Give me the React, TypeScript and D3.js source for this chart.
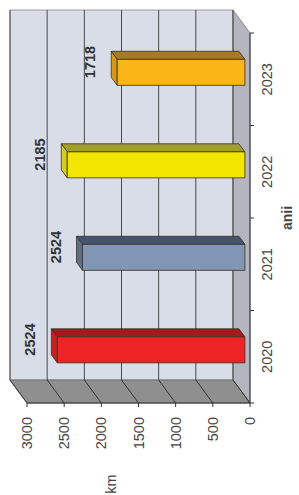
import React from "react";
import * as d3 from "d3";

// data (chart is drawn upright, then turned -90deg)
const years = ["2020", "2021", "2022", "2023"];
const barKm = [2524, 2185, 2390, 1718]; // bar lengths as drawn
const labelKm = ["2524", "2524", "2185", "1718"]; // printed labels
const kmTicks = [0, 500, 1000, 1500, 2000, 2500, 3000];

const frontColors = ["#ee2326", "#8196b4", "#f2e600", "#fbb516"];
const sideColors = ["#a41a1c", "#44546e", "#a0a02a", "#a77a24"];
const capColors = ["#c91f22", "#5d6f8c", "#d4cf1a", "#d59a1c"];

const W = 495; // upright width (= screen height)
const H = 299;
const DX = -23; // depth offset back -> front
const DY = 17;
const barFront = 0.7;
const barBack = 0.35;
const barW = 26;

const pt = (x: number, y: number, f: number) => [x + DX * f, y + DY * f];
const poly = (pts: number[][]) => pts.map((p) => p.join(",")).join(" ");

export default function App() {
  const x = d3.scaleBand<string>().domain(years).range([115, 485]);
  const y = d3.scaleLinear().domain([0, 3000]).range([233, 10]);
  const y0 = y(0);
  const [x0, x1] = x.range();

  return (
    <svg
      width={299}
      height={495}
      style={{ position: "absolute", left: 0, top: 0, fontFamily: "Liberation Sans, Arial, sans-serif" }}
    >
      <g transform={`translate(0,${W}) rotate(-90)`}>
        {/* back wall */}
        <rect x={x0} y={y(3000)} width={x1 - x0} height={y0 - y(3000)} fill="#d9dde8" stroke="#888" strokeWidth={0.8} />
        {/* floor */}
        <polygon
          points={poly([pt(x0, y0, 0), pt(x1, y0, 0), pt(x1, y0, 1), pt(x0, y0, 1)])}
          fill="#b3b5bf"
          stroke="#777"
          strokeWidth={0.8}
        />
        {/* side wall */}
        <polygon
          points={poly([pt(x0, y(3000), 0), pt(x0, y0, 0), pt(x0, y0, 1), pt(x0, y(3000), 1)])}
          fill="#8f8f8f"
          stroke="#666"
          strokeWidth={0.8}
        />
        {/* gridlines */}
        {kmTicks.map((v) => {
          const a = pt(x0, y(v), 1);
          return (
            <g key={v}>
              <line x1={x0} x2={x1} y1={y(v)} y2={y(v)} stroke="#4a4a4a" strokeWidth={1} />
              <line x1={x0} y1={y(v)} x2={a[0]} y2={a[1]} stroke="#333" strokeWidth={1} />
            </g>
          );
        })}

        {/* bars */}
        {years.map((yr, i) => {
          const c = (x(yr) ?? 0) + x.bandwidth() / 2;
          const L = c - barW / 2;
          const R = c + barW / 2;
          const yv = y(barKm[i]);
          const fL = pt(L, yv, barFront);
          const fR = pt(R, yv, barFront);
          const fR0 = pt(R, y0, barFront);
          const bL = pt(L, yv, barBack);
          const bR = pt(R, yv, barBack);
          const bR0 = pt(R, y0, barBack);
          const lab = pt(c, yv, 0.25);
          return (
            <g key={yr} stroke="#3a3020" strokeWidth={0.8} strokeLinejoin="round">
              <polygon points={poly([fR, bR, bR0, fR0])} fill={sideColors[i]} />
              <polygon points={poly([fL, fR, bR, bL])} fill={capColors[i]} />
              <rect x={fL[0]} y={fL[1]} width={barW} height={fR0[1] - fL[1]} fill={frontColors[i]} />
              <text
                x={lab[0]}
                y={pt(c, yv, barBack)[1] - 21}
                dy="0.35em"
                textAnchor="middle"
                fontSize={14.5}
                fontWeight="bold"
                fill="#333"
                stroke="none"
              >
                {labelKm[i]}
              </text>
            </g>
          );
        })}

        {/* category axis (front) */}
        <line x1={x0 + DX} x2={x1 + DX} y1={y0 + DY} y2={y0 + DY} stroke="#333" strokeWidth={1} />
        {[...years.map((yr) => x(yr) ?? 0), x1].map((t, i) => (
          <line key={i} x1={t + DX} x2={t + DX} y1={y0 + DY} y2={y0 + DY + 4} stroke="#333" />
        ))}
        {years.map((yr) => (
          <text
            key={yr}
            x={(x(yr) ?? 0) + x.bandwidth() / 2 + DX}
            y={y0 + DY + 17}
            dy="0.35em"
            textAnchor="middle"
            fontSize={14.5}
            fill="#444"
          >
            {yr}
          </text>
        ))}
        <text x={(x0 + x1) / 2 + DX} y={287} dy="0.35em" textAnchor="middle" fontSize={14} fontWeight="bold" fill="#444">
          anii
        </text>

        {/* value axis (front) */}
        <line x1={x0 + DX} x2={x0 + DX} y1={y(3000) + DY} y2={y0 + DY} stroke="#333" strokeWidth={1} />
        {kmTicks.map((v) => (
          <g key={v}>
            <line x1={x0 + DX - 4} x2={x0 + DX} y1={y(v) + DY} y2={y(v) + DY} stroke="#333" />
            <text x={x0 + DX - 14} y={y(v) + DY} dy="0.35em" textAnchor="end" fontSize={14.5} fill="#444">
              {v}
            </text>
          </g>
        ))}
        <text x={11} y={111} dy="0.35em" textAnchor="middle" fontSize={14.5} fill="#444">
          km
        </text>
      </g>
    </svg>
  );
}
